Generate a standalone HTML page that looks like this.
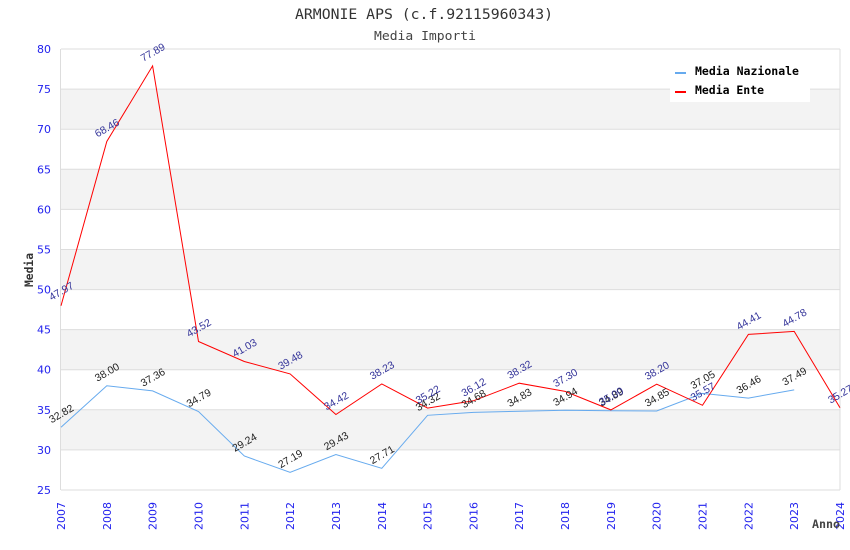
<!DOCTYPE html>
<html><head><meta charset="utf-8"><style>
html,body{margin:0;padding:0;background:#fff;}
svg{display:block;}
</style></head><body>
<svg width="850" height="550" viewBox="0 0 850 550" xmlns="http://www.w3.org/2000/svg">
<rect x="0" y="0" width="850" height="550" fill="#fff"/>
<!-- bands -->
<g fill="#f3f3f3">
<rect x="61" y="89.1" width="779" height="40.1"/>
<rect x="61" y="169.3" width="779" height="40.1"/>
<rect x="61" y="249.5" width="779" height="40.1"/>
<rect x="61" y="329.6" width="779" height="40.1"/>
<rect x="61" y="409.8" width="779" height="40.1"/>
</g>
<g stroke="#dddddd" stroke-width="1">
<line x1="61" y1="49" x2="840" y2="49"/>
<line x1="61" y1="89.1" x2="840" y2="89.1"/>
<line x1="61" y1="129.2" x2="840" y2="129.2"/>
<line x1="61" y1="169.3" x2="840" y2="169.3"/>
<line x1="61" y1="209.4" x2="840" y2="209.4"/>
<line x1="61" y1="249.5" x2="840" y2="249.5"/>
<line x1="61" y1="289.6" x2="840" y2="289.6"/>
<line x1="61" y1="329.6" x2="840" y2="329.6"/>
<line x1="61" y1="369.7" x2="840" y2="369.7"/>
<line x1="61" y1="409.8" x2="840" y2="409.8"/>
<line x1="61" y1="449.9" x2="840" y2="449.9"/>
<line x1="61" y1="490" x2="840" y2="490"/>
<line x1="60.5" y1="49" x2="60.5" y2="490"/>
<line x1="840" y1="49" x2="840" y2="490"/>
</g>
<!-- title -->
<text x="424" y="19" text-anchor="middle" font-family="DejaVu Sans Mono, Liberation Mono, monospace" font-size="14" fill="#333" textLength="258" lengthAdjust="spacingAndGlyphs">ARMONIE APS (c.f.92115960343)</text>
<text x="425" y="40" text-anchor="middle" font-family="DejaVu Sans Mono, Liberation Mono, monospace" font-size="12.5" fill="#444" textLength="102" lengthAdjust="spacingAndGlyphs">Media Importi</text>
<!-- y labels -->
<g font-family="DejaVu Sans, Liberation Sans, sans-serif" font-size="11" fill="#2222ee" text-anchor="end">
<text x="51" y="53">80</text>
<text x="51" y="93.1">75</text>
<text x="51" y="133.2">70</text>
<text x="51" y="173.3">65</text>
<text x="51" y="213.4">60</text>
<text x="51" y="253.5">55</text>
<text x="51" y="293.6">50</text>
<text x="51" y="333.6">45</text>
<text x="51" y="373.7">40</text>
<text x="51" y="413.8">35</text>
<text x="51" y="453.9">30</text>
<text x="51" y="494">25</text>
</g>
<!-- x labels -->
<g font-family="DejaVu Sans, Liberation Sans, sans-serif" font-size="11" fill="#2222ee" text-anchor="end">
<text transform="translate(65,502) rotate(-90)">2007</text>
<text transform="translate(110.8,502) rotate(-90)">2008</text>
<text transform="translate(156.6,502) rotate(-90)">2009</text>
<text transform="translate(202.5,502) rotate(-90)">2010</text>
<text transform="translate(248.3,502) rotate(-90)">2011</text>
<text transform="translate(294.1,502) rotate(-90)">2012</text>
<text transform="translate(339.9,502) rotate(-90)">2013</text>
<text transform="translate(385.8,502) rotate(-90)">2014</text>
<text transform="translate(431.6,502) rotate(-90)">2015</text>
<text transform="translate(477.4,502) rotate(-90)">2016</text>
<text transform="translate(523.2,502) rotate(-90)">2017</text>
<text transform="translate(569.1,502) rotate(-90)">2018</text>
<text transform="translate(614.9,502) rotate(-90)">2019</text>
<text transform="translate(660.7,502) rotate(-90)">2020</text>
<text transform="translate(706.5,502) rotate(-90)">2021</text>
<text transform="translate(752.4,502) rotate(-90)">2022</text>
<text transform="translate(798.2,502) rotate(-90)">2023</text>
<text transform="translate(844,502) rotate(-90)">2024</text>
</g>
<!-- axis titles -->
<text transform="translate(33,270) rotate(-90)" text-anchor="middle" font-family="DejaVu Sans Mono, Liberation Mono, monospace" font-weight="bold" font-size="11.5" fill="#333" textLength="34" lengthAdjust="spacingAndGlyphs">Media</text>
<text x="812" y="528" font-family="DejaVu Sans Mono, Liberation Mono, monospace" font-weight="bold" font-size="11.5" fill="#444" textLength="28" lengthAdjust="spacingAndGlyphs">Anno</text>
<!-- series -->
<polyline fill="none" stroke="#66aaee" stroke-width="1" points="61,427.3 106.8,385.8 152.6,390.9 198.5,411.5 244.3,456 290.1,472.4 335.9,454.5 381.8,468.3 427.6,415.3 473.4,412.4 519.2,411.2 565.1,410.3 610.9,410.7 656.7,411 702.5,393.4 748.4,398.1 794.2,389.9"/>
<polyline fill="none" stroke="#ff0000" stroke-width="1" points="61,305.8 106.8,141.5 152.6,65.9 198.5,341.5 244.3,361.5 290.1,373.9 335.9,414.5 381.8,383.9 427.6,408.1 473.4,400.8 519.2,383.2 565.1,391.4 610.9,409.9 656.7,384.2 702.5,405.3 748.4,334.4 794.2,331.4 840,407.7"/>
<!-- labels Nazionale -->
<g font-family="Liberation Sans, DejaVu Sans, sans-serif" font-size="10.5" fill="#222" text-anchor="middle">
<text transform="translate(61,413.3) rotate(-30)" y="4">32.82</text>
<text transform="translate(106.8,371.8) rotate(-30)" y="4">38.00</text>
<text transform="translate(152.6,376.9) rotate(-30)" y="4">37.36</text>
<text transform="translate(198.5,397.5) rotate(-30)" y="4">34.79</text>
<text transform="translate(244.3,442) rotate(-30)" y="4">29.24</text>
<text transform="translate(290.1,458.4) rotate(-30)" y="4">27.19</text>
<text transform="translate(335.9,440.5) rotate(-30)" y="4">29.43</text>
<text transform="translate(381.8,454.3) rotate(-30)" y="4">27.71</text>
<text transform="translate(427.6,401.3) rotate(-30)" y="4">34.32</text>
<text transform="translate(473.4,398.4) rotate(-30)" y="4">34.68</text>
<text transform="translate(519.2,397.2) rotate(-30)" y="4">34.83</text>
<text transform="translate(565.1,396.3) rotate(-30)" y="4">34.94</text>
<text transform="translate(610.9,396.7) rotate(-30)" y="4">34.89</text>
<text transform="translate(656.7,397) rotate(-30)" y="4">34.85</text>
<text transform="translate(702.5,379.4) rotate(-30)" y="4">37.05</text>
<text transform="translate(748.4,384.1) rotate(-30)" y="4">36.46</text>
<text transform="translate(794.2,375.9) rotate(-30)" y="4">37.49</text>
</g>
<!-- labels Ente -->
<g font-family="Liberation Sans, DejaVu Sans, sans-serif" font-size="10.5" fill="#333399" text-anchor="middle">
<text transform="translate(61,290.8) rotate(-30)" y="4">47.97</text>
<text transform="translate(106.8,127.5) rotate(-30)" y="4">68.46</text>
<text transform="translate(152.6,51.9) rotate(-30)" y="4">77.89</text>
<text transform="translate(198.5,327.5) rotate(-30)" y="4">43.52</text>
<text transform="translate(244.3,347.5) rotate(-30)" y="4">41.03</text>
<text transform="translate(290.1,359.9) rotate(-30)" y="4">39.48</text>
<text transform="translate(335.9,400.5) rotate(-30)" y="4">34.42</text>
<text transform="translate(381.8,369.9) rotate(-30)" y="4">38.23</text>
<text transform="translate(427.6,394.1) rotate(-30)" y="4">35.22</text>
<text transform="translate(473.4,386.8) rotate(-30)" y="4">36.12</text>
<text transform="translate(519.2,369.2) rotate(-30)" y="4">38.32</text>
<text transform="translate(565.1,377.4) rotate(-30)" y="4">37.30</text>
<text transform="translate(610.9,395.9) rotate(-30)" y="4">35.00</text>
<text transform="translate(656.7,370.2) rotate(-30)" y="4">38.20</text>
<text transform="translate(702.5,391.3) rotate(-30)" y="4">35.57</text>
<text transform="translate(748.4,320.4) rotate(-30)" y="4">44.41</text>
<text transform="translate(794.2,317.4) rotate(-30)" y="4">44.78</text>
<text transform="translate(840,393.7) rotate(-30)" y="4">35.27</text>
</g>
<!-- legend -->
<rect x="670" y="56" width="140" height="46" fill="#fff"/>
<rect x="675" y="72" width="11" height="2" fill="#66aaee"/>
<rect x="675" y="91" width="11" height="2" fill="#ff0000"/>
<g font-family="DejaVu Sans Mono, Liberation Mono, monospace" font-weight="bold" font-size="11.5" fill="#000">
<text x="695" y="75" textLength="104" lengthAdjust="spacingAndGlyphs">Media Nazionale</text>
<text x="695" y="94" textLength="69" lengthAdjust="spacingAndGlyphs">Media Ente</text>
</g>
</svg>
</body></html>
